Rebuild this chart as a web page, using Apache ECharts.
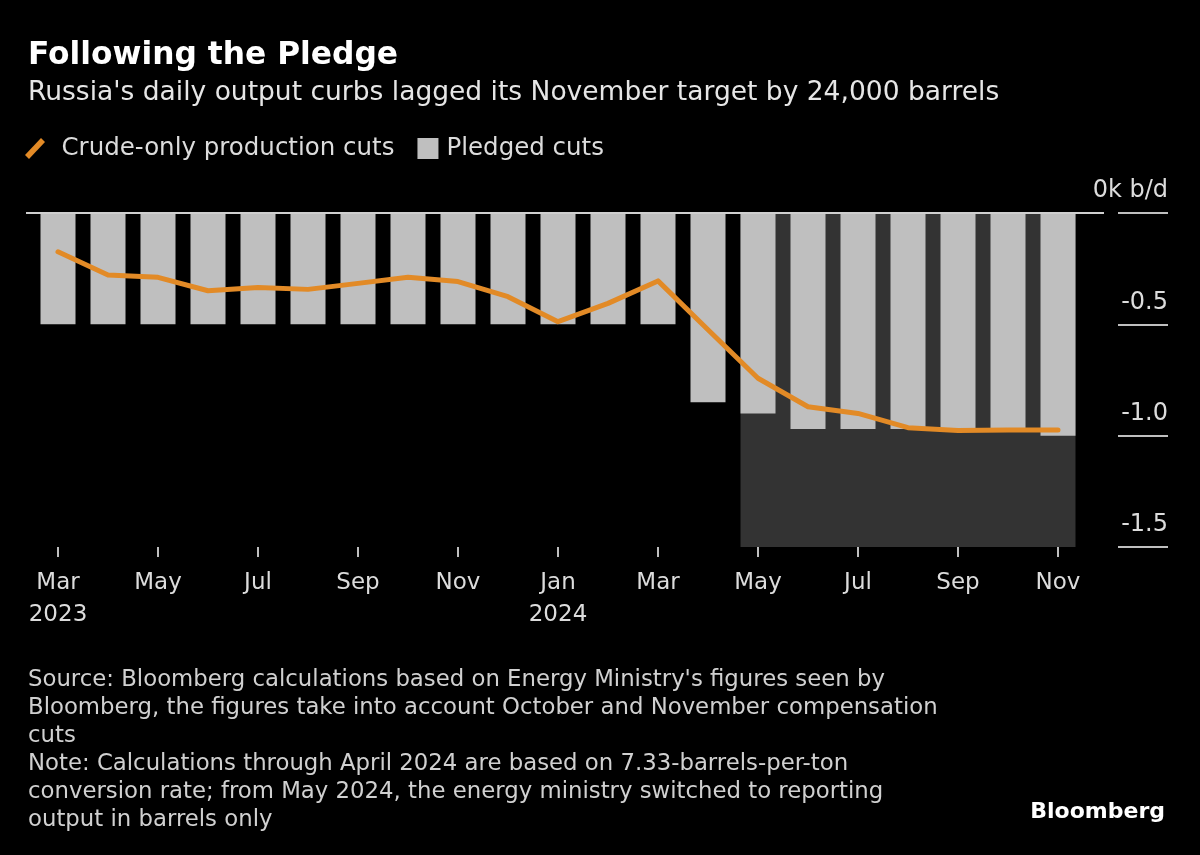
<!DOCTYPE html>
<html>
<head>
<meta charset="utf-8">
<script src="https://cdn.jsdelivr.net/npm/echarts@6/dist/echarts.min.js"></script>
<style>
html,body{margin:0;padding:0;background:#000;}
#chart{width:1200px;height:855px;}
</style>
</head>
<body>
<div id="chart"></div>
<script>
// ---- data ----
const months = ['Mar 2023','Apr 2023','May 2023','Jun 2023','Jul 2023','Aug 2023','Sep 2023','Oct 2023','Nov 2023','Dec 2023',
  'Jan 2024','Feb 2024','Mar 2024','Apr 2024','May 2024','Jun 2024','Jul 2024','Aug 2024','Sep 2024','Oct 2024','Nov 2024'];
const pledgedCuts = [-0.5,-0.5,-0.5,-0.5,-0.5,-0.5,-0.5,-0.5,-0.5,-0.5,-0.5,-0.5,-0.5,-0.85,-0.90,-0.97,-0.97,-0.97,-0.97,-0.97,-1.0];
const crudeCuts = [-0.174,-0.278,-0.289,-0.349,-0.335,-0.343,-0.316,-0.289,-0.308,-0.376,-0.488,-0.406,-0.305,-0.524,-0.742,-0.870,-0.900,-0.964,-0.977,-0.974,-0.974];
const shadeRange = ['May 2024','Nov 2024'];
const shadeBottom = -1.5;
const yTicks = [0,-0.5,-1.0,-1.5];
const yTickLabels = ['0k b/d','-0.5','-1.0','-1.5'];
const zeroLine = [[0,0],[1,0]];

const titleText = 'Following the Pledge';
const subtitleText = "Russia's daily output curbs lagged its November target by 24,000 barrels";
const seriesNames = ['Crude-only production cuts','Pledged cuts'];
const footnoteText = "Source: Bloomberg calculations based on Energy Ministry's figures seen by\nBloomberg, the figures take into account October and November compensation\ncuts\nNote: Calculations through April 2024 are based on 7.33-barrels-per-ton\nconversion rate; from May 2024, the energy ministry switched to reporting\noutput in barrels only";
const brandText = 'Bloomberg';

// ---- styles ----
const FONT = '"DejaVu Sans", sans-serif';
const ORANGE = '#E28A26';
const LIGHT = '#BFBFBF';
const DARK = '#333333';
const BAR_RATIO = 0.7;

const everyOther = function (idx) { return idx % 2 === 0; };

const chart = echarts.init(document.getElementById('chart'), null, {renderer:'canvas'});

const option = {
  backgroundColor: '#000000',
  animation: false,
  textStyle: {fontFamily: FONT},
  title: [
    {text: titleText, left: 28, top: 40, padding: 0,
     textStyle: {fontFamily: FONT, fontSize: 31.3, fontWeight: 'bold', color: '#ffffff'}},
    {text: subtitleText, left: 28, top: 80, padding: 0,
     textStyle: {fontFamily: FONT, fontSize: 26.5, fontWeight: 'normal', color: '#e6e6e6'}},
    {text: footnoteText, left: 28, top: 666, padding: 0,
     textStyle: {fontFamily: FONT, fontSize: 22.8, lineHeight: 28, fontWeight: 'normal', color: '#d0d0d0'}},
    {text: brandText, right: 35, top: 801, padding: 0,
     textStyle: {fontFamily: FONT, fontSize: 22, fontWeight: 'bold', color: '#ffffff'}}
  ],
  legend: {
    left: 25, top: 136, padding: 0, itemWidth: 21, itemHeight: 21, itemGap: 23,
    selectedMode: false,
    textStyle: {fontFamily: FONT, fontSize: 24.5, color: '#dcdcdc'},
    data: [
      {name: seriesNames[0], icon: 'path://M1,19 L17,2 L21,6 L5,23 Z', itemStyle: {color: ORANGE},
       textStyle: {padding: [0,0,0,11]}},
      {name: seriesNames[1], icon: 'rect', itemStyle: {color: LIGHT},
       textStyle: {padding: [0,0,0,3]}}
    ]
  },
  grid: [
    {left: 33, right: 117, top: 213, bottom: 308, containLabel: false},
    {left: 26, right: 96, top: 213, bottom: 308, containLabel: false}
  ],
  xAxis: [
    {type: 'category', gridIndex: 0, data: months, position: 'bottom',
     axisLine: {show: true, onZero: false, lineStyle: {color: 'rgba(0,0,0,0)', width: 1}},
     axisTick: {show: true, inside: false, interval: everyOther, alignWithLabel: true, length: 10,
       lineStyle: {color: '#bfbfbf', width: 2}},
     axisLabel: {interval: everyOther, margin: 20, fontFamily: FONT, fontSize: 23, lineHeight: 32, color: '#dcdcdc',
       formatter: function (v, i) {
         const parts = v.split(' ');
         return (i === 0 || parts[0] === 'Jan') ? parts[0] + '\n' + parts[1] : parts[0];
       }},
     splitLine: {show: false}},
    {type: 'value', gridIndex: 1, min: 0, max: 1, show: false}
  ],
  yAxis: [
    {type: 'value', gridIndex: 0, position: 'right', offset: 35, min: -1.5, max: 0, interval: 0.5,
     axisLine: {show: false}, splitLine: {show: false},
     axisTick: {show: true, inside: false, length: 50, lineStyle: {color: '#bfbfbf', width: 2}},
     axisLabel: {margin: 50, align: 'right', verticalAlign: 'bottom', padding: [0,0,10,0],
       fontFamily: FONT, fontSize: 24, color: '#dcdcdc',
       formatter: function (v) {
         const i = yTicks.findIndex(t => Math.abs(t - v) < 1e-9);
         return i >= 0 ? yTickLabels[i] : '';
       }}},
    {type: 'value', gridIndex: 1, min: -1.5, max: 0, show: false}
  ],
  series: [
    {
      type: 'custom', name: 'shade', xAxisIndex: 0, yAxisIndex: 0, z: 1, silent: true,
      data: [[months.indexOf(shadeRange[0]), months.indexOf(shadeRange[1]), shadeBottom]],
      encode: {x: [0, 1], y: 2},
      renderItem: function (params, api) {
        const a = api.coord([api.value(0), 0]);
        const b = api.coord([api.value(1), api.value(2)]);
        const half = api.size([1, 0])[0] * BAR_RATIO / 2;
        return {type: 'rect',
          shape: {x: a[0] - half, y: a[1], width: b[0] - a[0] + 2 * half, height: b[1] - a[1]},
          style: {fill: DARK}};
      }
    },
    {
      type: 'bar', name: seriesNames[1], xAxisIndex: 0, yAxisIndex: 0, z: 2,
      data: pledgedCuts, barWidth: (BAR_RATIO * 100) + '%',
      itemStyle: {color: LIGHT}, silent: true
    },
    {
      type: 'line', name: 'zero', xAxisIndex: 1, yAxisIndex: 1, z: 3, silent: true,
      data: zeroLine, symbol: 'none', lineStyle: {color: '#cfcfcf', width: 2}
    },
    {
      type: 'line', name: seriesNames[0], xAxisIndex: 0, yAxisIndex: 0, z: 4,
      data: crudeCuts, symbol: 'none', silent: true,
      itemStyle: {color: ORANGE},
      lineStyle: {color: ORANGE, width: 5, cap: 'round', join: 'round'}
    }
  ]
};
chart.setOption(option);
</script>
</body>
</html>
